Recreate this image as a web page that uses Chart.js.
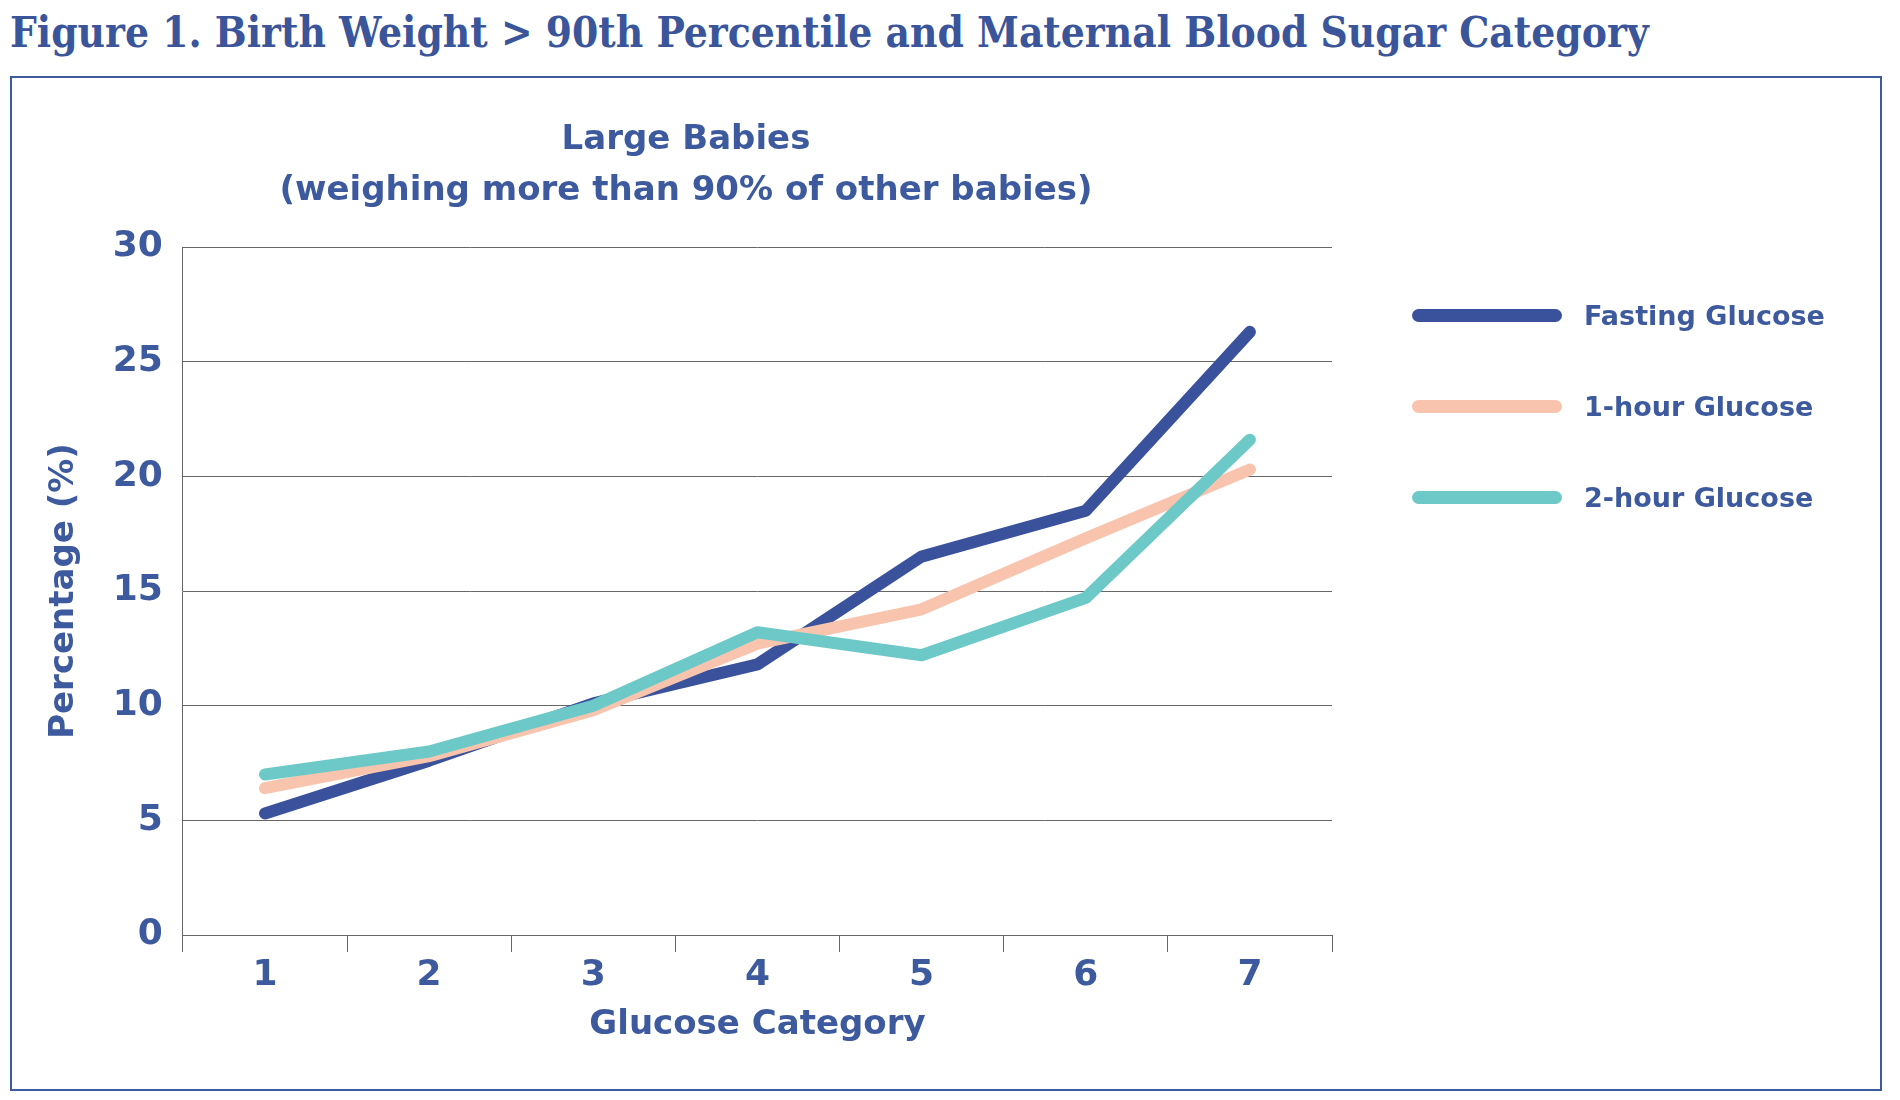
<!DOCTYPE html>
<html>
<head>
<meta charset="utf-8">
<script src="https://cdn.jsdelivr.net/npm/chart.js@4"></script>
<style>
  body { margin: 0; background: #fff; width: 1900px; height: 1100px; position: relative; overflow: hidden; }
  #fig-title { position: absolute; left: 10px; top: 8px; font-family: "DejaVu Serif Condensed", "DejaVu Serif", serif; font-weight: bold; font-size: 42px; color: #3a559a; }
  #frame { position: absolute; left: 10px; top: 76px; width: 1872px; height: 1015px; border: 2px solid #3d5a9e; box-sizing: border-box; }
  #wrap { position: absolute; left: 0; top: 0; width: 1558px; height: 1100px; }
  #legend { position: absolute; left: 1412px; top: 292px; font-family: "DejaVu Sans", sans-serif; font-weight: bold; font-size: 27px; color: #3d5a9e; }
  .item { display: flex; align-items: center; height: 46px; margin-bottom: 45px; }
  .swatch { width: 150px; height: 13px; border-radius: 7px; margin-right: 22px; }
</style>
</head>
<body>
<div id="fig-title">Figure 1. Birth Weight &gt; 90th Percentile and Maternal Blood Sugar Category</div>
<div id="frame"></div>
<div id="wrap"><canvas id="chart"></canvas></div>
<div id="legend"></div>
<script>
// Chart data.
var categories = ['1', '2', '3', '4', '5', '6', '7'];
var fasting = [5.3, 7.6, 10.1, 11.8, 16.5, 18.5, 26.3];
var oneHour = [6.4, 7.8, 9.8, 12.7, 14.2, 17.3, 20.3];
var twoHour = [7.0, 8.0, 10.0, 13.2, 12.2, 14.7, 21.6];
var seriesNames = ['Fasting Glucose', '1-hour Glucose', '2-hour Glucose'];
var seriesColors = ['#3a519b', '#f8c4ae', '#6cc9c8'];

var blue = '#3d5a9e';
var font = '"DejaVu Sans", sans-serif';

var datasets = [twoHour, oneHour, fasting].map(function(d, i) {
  var idx = 2 - i;
  return {
    label: seriesNames[idx],
    data: d,
    borderColor: seriesColors[idx],
    borderWidth: 12,
    pointRadius: 0,
    tension: 0,
    borderCapStyle: 'round',
    borderJoinStyle: 'round'
  };
});

new Chart(document.getElementById('chart'), {
  type: 'line',
  data: { labels: categories, datasets: datasets },
  options: {
    responsive: true,
    maintainAspectRatio: false,
    animation: false,
    layout: { padding: { left: 40, right: 226, top: 115, bottom: 50 } },
    plugins: {
      legend: { display: false },
      tooltip: { enabled: false },
      title: {
        display: true,
        text: ['Large Babies', '(weighing more than 90% of other babies)'],
        color: blue,
        font: { family: font, size: 34, weight: 'bold', lineHeight: 1.5 },
        padding: { top: 0, bottom: 30 }
      }
    },
    scales: {
      x: {
        offset: true,
        grid: { offset: true, drawOnChartArea: false, color: '#666', tickLength: 17 },
        border: { color: '#666' },
        ticks: { color: blue, font: { family: font, size: 36, weight: 'bold' }, padding: 2 },
        title: { display: true, text: 'Glucose Category', color: blue, font: { family: font, size: 34, weight: 'bold' }, padding: { top: 6 } }
      },
      y: {
        min: 0, max: 30,
        grid: { color: '#666', drawTicks: false },
        border: { color: '#666' },
        ticks: { stepSize: 5, color: blue, font: { family: font, size: 36, weight: 'bold' }, padding: 20 },
        title: { display: true, text: 'Percentage (%)', color: blue, font: { family: font, size: 34, weight: 'bold' }, padding: { bottom: 8 } }
      }
    }
  }
});

// Legend drawn from the same series arrays.
var legend = document.getElementById('legend');
seriesNames.forEach(function(name, i) {
  var row = document.createElement('div');
  row.className = 'item';
  row.innerHTML = '<span class="swatch" style="background:' + seriesColors[i] + '"></span>' + name;
  legend.appendChild(row);
});
</script>
</body>
</html>
